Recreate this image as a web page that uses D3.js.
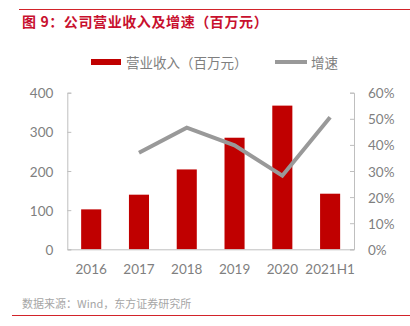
<!DOCTYPE html>
<html><head><meta charset="utf-8">
<script src="https://cdn.jsdelivr.net/npm/d3@7/dist/d3.min.js"></script>
<style>
html,body{margin:0;padding:0;background:#fff;}
svg{display:block;}
</style></head>
<body>
<svg id="c" width="410" height="326"></svg>
<script>
const categories = ["2016","2017","2018","2019","2020","2021H1"];
const revenue = [102, 139.5, 204, 285, 367, 142];
const growth = [null, 0.37, 0.466, 0.398, 0.282, 0.506];
const leftTicks = [0,100,200,300,400];
const rightTicks = [0,0.1,0.2,0.3,0.4,0.5,0.6];

const svg = d3.select("#c");
const cjk = "'Noto Sans CJK SC','Noto Sans',sans-serif";
const num = "Lato,'Noto Sans',sans-serif";
const axisCol = "#bfbfbf", txtCol = "#7f7f7f";

// frame lines
svg.append("line").attr("x1",19).attr("x2",410).attr("y1",9.5).attr("y2",9.5)
  .attr("stroke","#d2232a").attr("stroke-width",1.2);
svg.append("line").attr("x1",12).attr("x2",410).attr("y1",315.5).attr("y2",315.5)
  .attr("stroke","#d2232a").attr("stroke-width",1.2);

svg.append("text").attr("x",22).attr("y",21).attr("dominant-baseline","central")
  .attr("font-family",cjk).attr("font-size",14).attr("font-weight","bold")
  .attr("letter-spacing",0.6)
  .attr("fill","#c8102e").text("图 9：公司营业收入及增速（百万元）");

const x0 = 67.3, x1 = 354, yTop = 92.7, yBot = 249.3;
const x = d3.scaleBand().domain(categories).range([x0,x1]).paddingInner(0.58).paddingOuter(0.29);
const y = d3.scaleLinear().domain([0,400]).range([yBot,yTop]);
const y2 = d3.scaleLinear().domain([0,0.6]).range([yBot,yTop]);

// bars
svg.append("g").selectAll("rect").data(categories).join("rect")
  .attr("x",d=>x(d)).attr("width",x.bandwidth())
  .attr("y",(d,i)=>y(revenue[i])).attr("height",(d,i)=>yBot-y(revenue[i]))
  .attr("fill","#c00000");

// axes
function styleAxis(g){
  g.select(".domain").attr("stroke",axisCol);
  g.selectAll(".tick line").attr("stroke",axisCol);
  g.selectAll(".tick text").attr("fill",txtCol).attr("font-family",num).attr("font-size",13.5);
}
svg.append("g").attr("transform",`translate(${x0},0)`)
  .call(d3.axisLeft(y).tickValues(leftTicks).tickSizeInner(-4).tickSizeOuter(-4).tickPadding(14))
  .call(styleAxis).call(g=>g.selectAll(".tick text").attr("dy",null).attr("dominant-baseline","central"));
svg.append("g").attr("transform",`translate(${x1},0)`)
  .call(d3.axisRight(y2).tickValues(rightTicks).tickFormat(d3.format(".0%")).tickSizeInner(-4).tickSizeOuter(-4).tickPadding(14))
  .call(styleAxis).call(g=>g.selectAll(".tick text").attr("dy",null).attr("dominant-baseline","central"));
svg.append("g").attr("transform",`translate(0,${yBot})`)
  .call(d3.axisBottom(x).tickSize(0).tickSizeOuter(0).tickPadding(0))
  .call(styleAxis).call(g=>g.selectAll(".tick text").attr("dy",null).attr("y",19.4).attr("dominant-baseline","central"));

// line
const pts = categories.map((c,i)=>({c,v:growth[i]})).filter(d=>d.v!==null);
svg.append("path").datum(pts)
  .attr("d",d3.line().x(d=>x(d.c)+x.bandwidth()/2).y(d=>y2(d.v)))
  .attr("fill","none").attr("stroke","#999999").attr("stroke-width",4);

// legend
svg.append("rect").attr("x",91).attr("y",59).attr("width",30).attr("height",6).attr("fill","#c00000");
svg.append("text").attr("x",126).attr("y",62).attr("dominant-baseline","central")
  .attr("font-family",cjk).attr("font-size",13.5).attr("fill",txtCol).text("营业收入（百万元）");
svg.append("line").attr("x1",275).attr("x2",307).attr("y1",62).attr("y2",62)
  .attr("stroke","#999999").attr("stroke-width",4);
svg.append("text").attr("x",311).attr("y",62).attr("dominant-baseline","central")
  .attr("font-family",cjk).attr("font-size",13.5).attr("fill",txtCol).text("增速");

// source
svg.append("text").attr("x",22).attr("y",302.5).attr("dominant-baseline","central")
  .attr("font-family",cjk).attr("font-size",11).attr("fill","#a6a6a6").text("数据来源：Wind，东方证券研究所");
</script>
</body></html>
